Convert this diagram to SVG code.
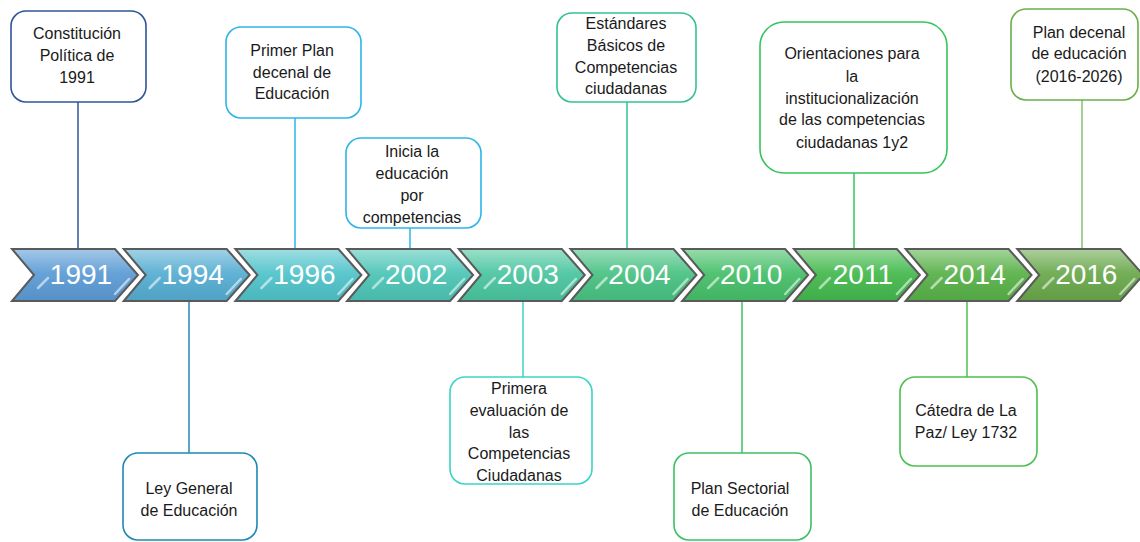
<svg xmlns="http://www.w3.org/2000/svg" width="1140" height="542" viewBox="0 0 1140 542">
<defs>
<linearGradient id="gloss" x1="0" y1="0" x2="0" y2="1">
<stop offset="0" stop-color="#ffffff" stop-opacity="0.45"/>
<stop offset="0.45" stop-color="#ffffff" stop-opacity="0.08"/>
<stop offset="1" stop-color="#000000" stop-opacity="0.06"/>
</linearGradient>
<path id="chev" d="M0,249 L103,249 L126,275 L103,301 L0,301 L22,275 Z"/>
</defs>
<style>
.box{fill:#ffffff;stroke-width:1.6}
.t{font-family:"Liberation Sans",Arial,sans-serif;font-size:16px;fill:#1a1a1a;text-anchor:middle}
.yr{font-family:"Liberation Sans",Arial,sans-serif;font-size:28px;fill:#ffffff;text-anchor:middle}
.c{stroke-width:1.5;fill:none}
.edge{fill:none;stroke:#5a5a5a;stroke-width:2;stroke-linejoin:miter}
.gl{fill:url(#gloss)}
.hl{fill:none;stroke:#ffffff;stroke-opacity:0.55;stroke-width:2.5;stroke-linecap:round}
</style>
<rect width="1140" height="542" fill="#ffffff"/>

<g id="connectors">
<line class="c" stroke="#2e5597" x1="78" y1="102" x2="78" y2="249"/>
<line class="c" stroke="#2cb5ea" x1="295" y1="118" x2="295" y2="249"/>
<line class="c" stroke="#2cb5ea" x1="410" y1="228" x2="410" y2="249"/>
<line class="c" stroke="#33c38e" x1="627" y1="102" x2="627" y2="249"/>
<line class="c" stroke="#36c45c" x1="854" y1="173" x2="854" y2="249"/>
<line class="c" stroke="#86c06e" x1="1082" y1="100" x2="1082" y2="249"/>
<line class="c" stroke="#1e88b4" x1="189" y1="301" x2="189" y2="453"/>
<line class="c" stroke="#3ad5c5" x1="523" y1="301" x2="523" y2="377"/>
<line class="c" stroke="#3cc064" x1="742" y1="301" x2="742" y2="453"/>
<line class="c" stroke="#4cc050" x1="967" y1="301" x2="967" y2="377"/>
</g>

<g id="timeline">
<g id="y1991" transform="translate(12,0)"><use href="#chev" fill="#5b9bd5"/><use href="#chev" class="gl"/><use href="#chev" class="edge"/><path class="hl" d="M26,288 L36,278 M103,294 L117,279"/><text class="yr" x="69" y="284">1991</text></g>
<g id="y1994" transform="translate(123.7,0)"><use href="#chev" fill="#55add2"/><use href="#chev" class="gl"/><use href="#chev" class="edge"/><path class="hl" d="M26,288 L36,278 M103,294 L117,279"/><text class="yr" x="69" y="284">1994</text></g>
<g id="y1996" transform="translate(235.4,0)"><use href="#chev" fill="#4fc3ca"/><use href="#chev" class="gl"/><use href="#chev" class="edge"/><path class="hl" d="M26,288 L36,278 M103,294 L117,279"/><text class="yr" x="69" y="284">1996</text></g>
<g id="y2002" transform="translate(347.1,0)"><use href="#chev" fill="#4cc5b6"/><use href="#chev" class="gl"/><use href="#chev" class="edge"/><path class="hl" d="M26,288 L36,278 M103,294 L117,279"/><text class="yr" x="69" y="284">2002</text></g>
<g id="y2003" transform="translate(458.8,0)"><use href="#chev" fill="#4ac59f"/><use href="#chev" class="gl"/><use href="#chev" class="edge"/><path class="hl" d="M26,288 L36,278 M103,294 L117,279"/><text class="yr" x="69" y="284">2003</text></g>
<g id="y2004" transform="translate(570.5,0)"><use href="#chev" fill="#48c282"/><use href="#chev" class="gl"/><use href="#chev" class="edge"/><path class="hl" d="M26,288 L36,278 M103,294 L117,279"/><text class="yr" x="69" y="284">2004</text></g>
<g id="y2010" transform="translate(682.2,0)"><use href="#chev" fill="#45bf68"/><use href="#chev" class="gl"/><use href="#chev" class="edge"/><path class="hl" d="M26,288 L36,278 M103,294 L117,279"/><text class="yr" x="69" y="284">2010</text></g>
<g id="y2011" transform="translate(793.9,0)"><use href="#chev" fill="#43b94d"/><use href="#chev" class="gl"/><use href="#chev" class="edge"/><path class="hl" d="M26,288 L36,278 M103,294 L117,279"/><text class="yr" x="69" y="284">2011</text></g>
<g id="y2014" transform="translate(905.6,0)"><use href="#chev" fill="#58b148"/><use href="#chev" class="gl"/><use href="#chev" class="edge"/><path class="hl" d="M26,288 L36,278 M103,294 L117,279"/><text class="yr" x="69" y="284">2014</text></g>
<g id="y2016" transform="translate(1017.3,0)"><use href="#chev" fill="#69a84b"/><use href="#chev" class="gl"/><use href="#chev" class="edge"/><path class="hl" d="M26,288 L36,278 M103,294 L117,279"/><text class="yr" x="69" y="284">2016</text></g>
</g>

<g id="n1991">
<rect class="box" stroke="#2e5597" x="11" y="11" width="135" height="91" rx="15"/>
<text class="t" x="77" y="39">Constitución</text>
<text class="t" x="77" y="61">Política de</text>
<text class="t" x="77" y="83">1991</text>
</g>
<g id="n1996">
<rect class="box" stroke="#2cb5ea" x="226" y="27" width="135" height="91" rx="15"/>
<text class="t" x="292" y="56">Primer Plan</text>
<text class="t" x="292" y="78">decenal de</text>
<text class="t" x="292" y="99">Educación</text>
</g>
<g id="n2002">
<rect class="box" stroke="#2cb5ea" x="346" y="138" width="135" height="90" rx="15"/>
<text class="t" x="412" y="157">Inicia la</text>
<text class="t" x="412" y="179">educación</text>
<text class="t" x="412" y="201">por</text>
<text class="t" x="412" y="223">competencias</text>
</g>
<g id="n2004">
<rect class="box" stroke="#33c38e" x="557" y="13" width="139" height="89" rx="15"/>
<text class="t" x="626" y="29">Estándares</text>
<text class="t" x="626" y="51">Básicos de</text>
<text class="t" x="626" y="73">Competencias</text>
<text class="t" x="626" y="94">ciudadanas</text>
</g>
<g id="n2011">
<rect class="box" stroke="#36c45c" x="760" y="22" width="187" height="151" rx="24"/>
<text class="t" x="852" y="59">Orientaciones para</text>
<text class="t" x="852" y="82">la</text>
<text class="t" x="852" y="104">institucionalización</text>
<text class="t" x="852" y="125">de las competencias</text>
<text class="t" x="852" y="148">ciudadanas 1y2</text>
</g>
<g id="n2016">
<rect class="box" stroke="#6aaf4a" x="1011" y="9" width="127" height="91" rx="15"/>
<text class="t" x="1079" y="38">Plan decenal</text>
<text class="t" x="1079" y="59">de educación</text>
<text class="t" x="1079" y="82">(2016-2026)</text>
</g>
<g id="n1994">
<rect class="box" stroke="#1e88b4" x="123" y="453" width="134" height="87" rx="15"/>
<text class="t" x="189" y="494">Ley General</text>
<text class="t" x="189" y="516">de Educación</text>
</g>
<g id="n2003">
<rect class="box" stroke="#3ad5c5" x="450" y="377" width="142" height="107" rx="15"/>
<text class="t" x="519" y="394">Primera</text>
<text class="t" x="519" y="416">evaluación de</text>
<text class="t" x="519" y="438">las</text>
<text class="t" x="519" y="459">Competencias</text>
<text class="t" x="519" y="481">Ciudadanas</text>
</g>
<g id="n2010">
<rect class="box" stroke="#3cc064" x="674" y="453" width="137" height="87" rx="15"/>
<text class="t" x="740" y="494">Plan Sectorial</text>
<text class="t" x="740" y="516">de Educación</text>
</g>
<g id="n2014">
<rect class="box" stroke="#4cc050" x="900" y="377" width="137" height="89" rx="15"/>
<text class="t" x="966" y="416">Cátedra de La</text>
<text class="t" x="966" y="438">Paz/ Ley 1732</text>
</g>
</svg>
